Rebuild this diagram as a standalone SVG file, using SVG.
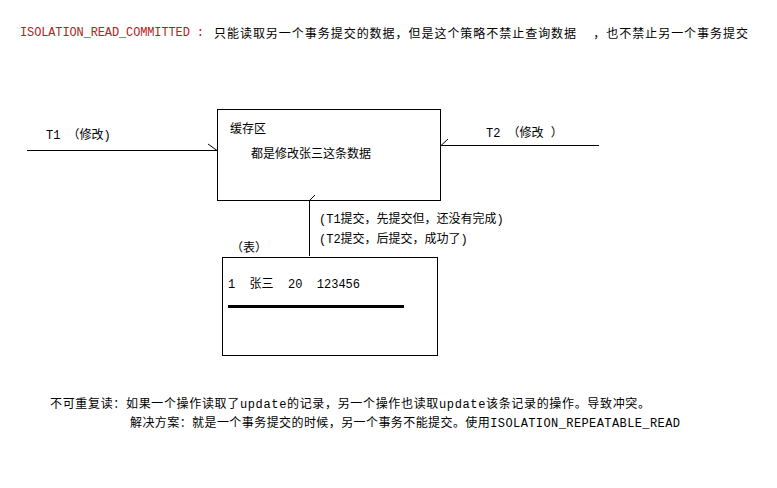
<svg xmlns="http://www.w3.org/2000/svg" width="777" height="488" viewBox="0 0 777 488">
<style>
text{font-family:"Liberation Mono","Noto Sans CJK SC",monospace;font-size:12px;fill:#000;white-space:pre}
.box{fill:#fff;stroke:#000;stroke-width:1}
.ln{stroke:#000;stroke-width:1;fill:none}
</style>
<rect width="777" height="488" fill="#fff"/>
<text x="20" y="36" xml:space="preserve" style="fill:#b22222" textLength="184" lengthAdjust="spacing">ISOLATION_READ_COMMITTED :</text>
<text x="214" y="38" xml:space="preserve" textLength="534" lengthAdjust="spacing">只能读取另一个事务提交的数据，但是这个策略不禁止查询数据  ，也不禁止另一个事务提交</text>
<g id="cache"><rect class="box" x="217.5" y="109.5" width="223" height="91"/>
<text x="230" y="133">缓存区</text><text x="251" y="158">都是修改张三这条数据</text></g>
<g id="table"><rect class="box" x="222.5" y="257.5" width="215" height="98"/>
<text x="228" y="288" xml:space="preserve">1  张三  20  123456</text>
<line x1="228" y1="306.5" x2="404" y2="306.5" stroke="#000" stroke-width="3"/></g>
<text x="231" y="252">（表）</text>
<g id="connectors">
<path class="ln" d="M27 150.5H217M208 144L217 150.5"/>
<path class="ln" d="M599 145.5H441M441 145.5L448 139"/>
<path class="ln" d="M309.5 256V200.5M309.5 200.5L315 195"/>
</g>
<text x="46" y="139" xml:space="preserve">T1 （修改)</text>
<text x="486" y="137" xml:space="preserve">T2 （修改 ）</text>
<text x="319" y="223">(T1提交，先提交但，还没有完成)</text>
<text x="319" y="243">(T2提交，后提交，成功了)</text>
<text x="50" y="408" textLength="600" lengthAdjust="spacing">不可重复读：如果一个操作读取了update的记录，另一个操作也读取update该条记录的操作。导致冲突。</text>
<text x="130" y="427" textLength="550" lengthAdjust="spacing">解决方案：就是一个事务提交的时候，另一个事务不能提交。使用ISOLATION_REPEATABLE_READ</text>
</svg>
